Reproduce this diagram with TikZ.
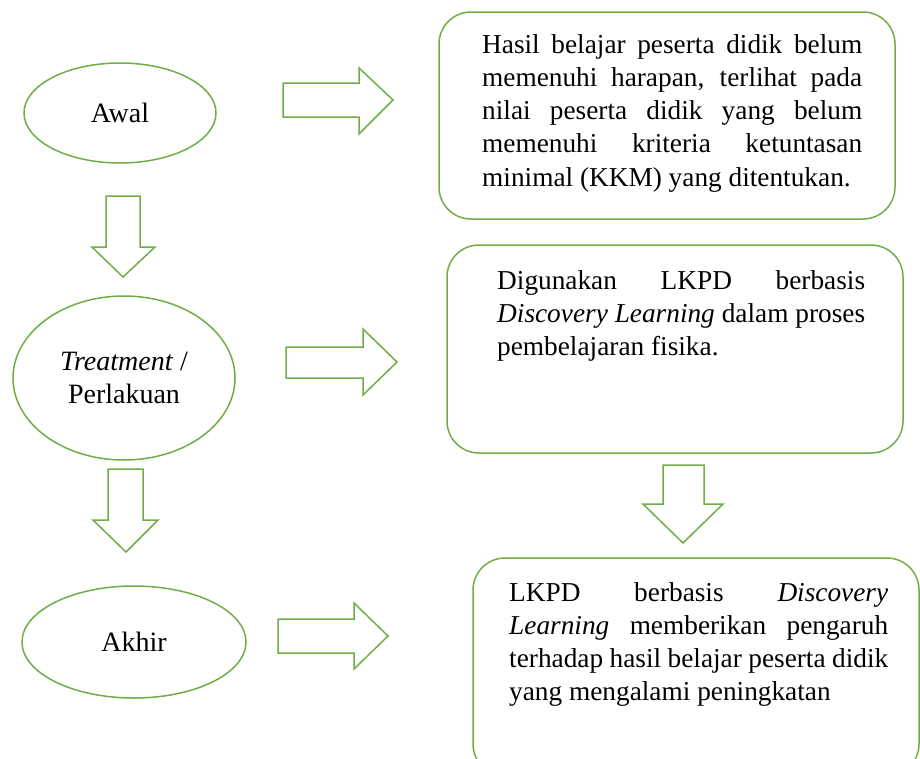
\documentclass[tikz,border=0pt]{standalone}
\usepackage{fontspec}
\setmainfont{Liberation Serif}
\usetikzlibrary{shapes.geometric}
\definecolor{ogreen}{HTML}{70AD47}
\tikzset{
  oval/.style={draw=ogreen, line width=1.5pt, ellipse, inner sep=0pt, align=center, font=\fontsize{28}{33}\selectfont},
  roundbox/.style={draw=ogreen, line width=1.5pt, rounded corners=32pt},
  blockarrow/.style={draw=ogreen, line width=1.5pt, line join=miter},
  boxtext/.style={anchor=base west, inner sep=0pt, align=justify, font=\fontsize{27.3}{33.3}\selectfont}
}
\begin{document}
\begin{tikzpicture}[x=1pt,y=-1pt]
\useasboundingbox (0,0) rectangle (920,758);
\clip (0,0) rectangle (920,758);
% ellipses
\node[oval, minimum width=192pt, minimum height=100pt] (awal) at (120,113) {Awal};
\node[oval, minimum width=222pt, minimum height=164pt] (treat) at (124,378) {\textit{Treatment} /\\Perlakuan};
\node[oval, minimum width=224pt, minimum height=112pt] (akhir) at (134,642) {Akhir};
% boxes
\draw[roundbox] (439,12) rectangle (895,219);
\coordinate (b1) at (482,53);
\node[boxtext, text width=380pt] (t1) at (b1) {Hasil belajar peserta didik belum\linebreak memenuhi harapan, terlihat pada\linebreak nilai peserta didik yang belum\linebreak memenuhi kriteria ketuntasan\linebreak minimal (KKM) yang ditentukan.};
\draw[roundbox] (447,245) rectangle (903,453);
\coordinate (b2) at (497,289);
\node[boxtext, text width=368pt] (t2) at (b2) {Digunakan LKPD berbasis\linebreak \textit{Discovery Learning} dalam proses\linebreak pembelajaran fisika.};
\draw[roundbox] (473,558) rectangle (919,776);
\coordinate (b3) at (509,601);
\node[boxtext, text width=379pt] (t3) at (b3) {LKPD berbasis \textit{Discovery}\linebreak \textit{Learning} memberikan pengaruh\linebreak terhadap hasil belajar peserta didik\linebreak yang mengalami peningkatan};
% right block arrows
\draw[blockarrow] (283,83) -- (359,83) -- (359,68) -- (393,100) -- (359,134) -- (359,117) -- (283,117) -- cycle;
\draw[blockarrow] (286,347) -- (363,347) -- (363,329) -- (397,362) -- (363,395) -- (363,378) -- (286,378) -- cycle;
\draw[blockarrow] (278,619) -- (354,619) -- (354,603) -- (388,636) -- (354,669) -- (354,653) -- (278,653) -- cycle;
% down block arrows
\draw[blockarrow] (106,196) -- (140,196) -- (140,247) -- (155,247) -- (123,277) -- (92,247) -- (106,247) -- cycle;
\draw[blockarrow] (108,469) -- (143,469) -- (143,520) -- (158,520) -- (126,552) -- (93,520) -- (108,520) -- cycle;
\draw[blockarrow] (663,465) -- (704,465) -- (704,504) -- (723,504) -- (683,543) -- (643,504) -- (663,504) -- cycle;
\end{tikzpicture}
\end{document}
